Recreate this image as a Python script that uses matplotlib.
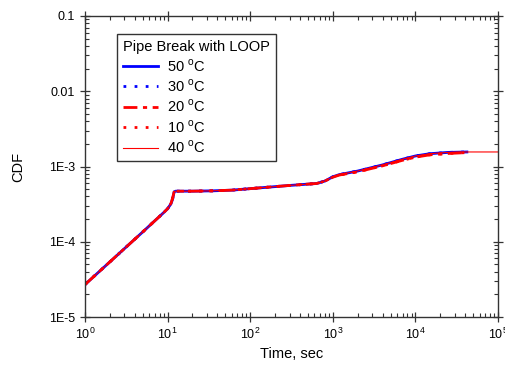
import numpy as np
from matplotlib import pyplot as plt
from matplotlib.ticker import LogLocator, FixedLocator, FixedFormatter, NullFormatter

plt.rcParams['font.family'] = ['Liberation Sans', 'DejaVu Sans']
plt.rcParams['mathtext.fontset'] = 'custom'
plt.rcParams['mathtext.rm'] = 'Liberation Sans'

# time (s) and CDF values
time = [1, 2, 5, 9, 10, 11, 11.5, 12, 12.5, 20, 35, 60, 130, 300, 640, 800,
        1000, 1200, 2000, 4000, 7000, 10000, 15000, 25000, 42000]
cdf_50 = [2.7e-5, 5.4e-5, 1.35e-4, 2.45e-4, 2.75e-4, 3.2e-4, 3.7e-4, 4.6e-4, 4.7e-4,
          4.7e-4, 4.75e-4, 4.85e-4, 5.2e-4, 5.6e-4, 5.95e-4, 6.4e-4,
          7.3e-4, 7.8e-4, 8.7e-4, 1.05e-3, 1.25e-3, 1.38e-3, 1.48e-3, 1.54e-3, 1.56e-3]
cdf_30 = cdf_50
cdf_20 = [2.7e-5, 5.4e-5, 1.35e-4, 2.45e-4, 2.75e-4, 3.25e-4, 3.8e-4, 4.6e-4, 4.7e-4,
          4.7e-4, 4.75e-4, 4.85e-4, 5.2e-4, 5.6e-4, 5.95e-4, 6.4e-4,
          7.2e-4, 7.7e-4, 8.5e-4, 1.02e-3, 1.21e-3, 1.33e-3, 1.43e-3, 1.49e-3, 1.53e-3]
cdf_10 = cdf_20
time_40 = time + [100000]
cdf_40 = cdf_50 + [1.56e-3]

series = [
    ('50 $^{\\mathrm{o}}$C', time, cdf_50, 'blue', '-', 2.0),
    ('30 $^{\\mathrm{o}}$C', time, cdf_30, 'blue', (0, (1, 3)), 2.0),
    ('20 $^{\\mathrm{o}}$C', time, cdf_20, 'red', (0, (5, 2, 1.5, 2)), 2.0),
    ('10 $^{\\mathrm{o}}$C', time, cdf_10, 'red', (0, (1, 3)), 2.0),
    ('40 $^{\\mathrm{o}}$C', time_40, cdf_40, 'red', '-', 0.8),
]


def main():
    fig = plt.figure(figsize=(5.06, 3.69), dpi=100)
    ax = fig.add_axes([85 / 506, 1 - 317 / 369, 413 / 506, 301 / 369])

    for label, t, c, color, ls, lw in series:
        ax.plot(t, c, color=color, linestyle=ls, linewidth=lw, label=label)

    ax.set_xscale('log')
    ax.set_yscale('log')
    ax.set_xlim(1, 1e5)
    ax.set_ylim(1e-5, 0.1)

    ax.yaxis.set_major_locator(FixedLocator([1e-5, 1e-4, 1e-3, 1e-2, 1e-1]))
    ax.yaxis.set_major_formatter(FixedFormatter(['1E-5', '1E-4', '1E-3', '0.01', '0.1']))
    ax.yaxis.set_minor_locator(LogLocator(base=10, subs=np.arange(2, 10)))
    ax.yaxis.set_minor_formatter(NullFormatter())
    ax.xaxis.set_minor_locator(LogLocator(base=10, subs=np.arange(2, 10)))
    ax.xaxis.set_minor_formatter(NullFormatter())

    ax.tick_params(which='major', direction='inout', length=7, width=0.9,
                   labelsize=9, top=True, right=True, color='#333333')
    ax.tick_params(which='minor', direction='in', length=3, width=0.8,
                   top=True, right=True, color='#333333')
    for sp in ax.spines.values():
        sp.set_linewidth(1.0)
        sp.set_color('#333333')

    ax.set_xlabel('Time, sec', fontsize=10.5, labelpad=4)
    ax.set_ylabel('CDF', fontsize=10.5, labelpad=17)

    leg = ax.legend(title='Pipe Break with LOOP', loc='upper left',
                    bbox_to_anchor=(0.0775, 0.94), borderaxespad=0,
                    fontsize=10.5, title_fontsize=10.5,
                    frameon=True, fancybox=False, edgecolor='black',
                    handlelength=2.4, handletextpad=0.6, labelspacing=0.25,
                    borderpad=0.4)
    leg.get_frame().set_linewidth(1.0)
    leg._legend_box.align = 'left'

    fig.savefig('out.png', dpi=100)


if __name__ == '__main__':
    main()
